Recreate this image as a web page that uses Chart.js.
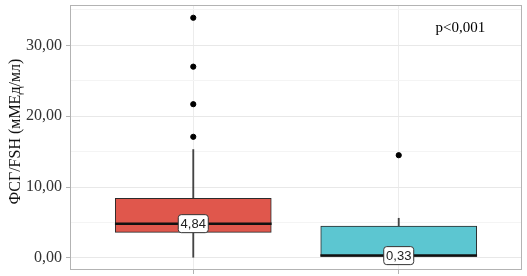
<!DOCTYPE html>
<html><head><meta charset="utf-8">
<script src="https://cdn.jsdelivr.net/npm/chart.js@4/dist/chart.umd.min.js"></script>
<style>html,body{margin:0;padding:0;background:#fff}#wrap{width:527px;height:276px}</style>
</head><body><div id="wrap"><canvas id="c" width="527" height="276"></canvas></div>
<script>
const categories = ['', ''];
const positions = [1, 2];
const q1 = [3.6, 0.2];
const median = [4.84, 0.33];
const q3 = [8.4, 4.5];
const whiskerLow = [0.1, 0.05];
const whiskerHigh = [15.3, 5.6];
const outliersA = [17.1, 21.7, 27.0, 33.9];
const outliersB = [14.5];
const medianLabels = ['4,84', '0,33'];
const yTicks = [0, 5, 10, 15, 20, 25, 30, 35];
const pText = 'p<0,001';
const yTitle = 'ФСГ/FSH (мМЕд/мл)';

const boxColors = ['#E0574C', '#5CC6D1'];

const overlay = {
  id: 'overlay',
  afterDatasetsDraw(chart) {
    const ctx = chart.ctx, xs = chart.scales.x, ys = chart.scales.y, a = chart.chartArea;
    ctx.save();
    ctx.strokeStyle = '#b3b3b3'; ctx.lineWidth = 1;
    ctx.strokeRect(Math.round(a.left) + 0.5, Math.round(a.top) + 0.5, Math.round(a.right - a.left) - 1, Math.round(a.bottom - a.top) - 1);
    ctx.font = '13px "Liberation Sans", Arial, sans-serif';
    ctx.textAlign = 'center'; ctx.textBaseline = 'middle';
    positions.forEach((p, i) => {
      const x = xs.getPixelForValue(p), y = ys.getPixelForValue(median[i]);
      const w = 30, h = 18, r = 3;
      ctx.beginPath();
      ctx.roundRect(x - w / 2, y - h / 2, w, h, r);
      ctx.fillStyle = '#fff'; ctx.fill();
      ctx.strokeStyle = '#333'; ctx.lineWidth = 1; ctx.stroke();
      ctx.fillStyle = '#222';
      ctx.fillText(medianLabels[i], x, y + 1);
    });
    ctx.font = '15px "Liberation Serif", "Times New Roman", serif';
    ctx.fillStyle = '#000';
    ctx.fillText(pText, xs.getPixelForValue(2.3), ys.getPixelForValue(32.4));
    ctx.restore();
  }
};

new Chart(document.getElementById('c'), {
  type: 'bar',
  data: {
    datasets: [
      {
        type: 'scatter',
        data: [...outliersA.map(v => ({x: positions[0], y: v})), ...outliersB.map(v => ({x: positions[1], y: v}))],
        backgroundColor: '#000', borderColor: '#000', pointRadius: 2.6, order: 1
      },
      {
        data: positions.map((p, i) => ({x: p, y: [median[i] - 0.13, median[i] + 0.13]})),
        backgroundColor: '#111', borderWidth: 0, barThickness: 156, grouped: false, order: 2
      },
      {
        data: positions.map((p, i) => ({x: p, y: [q1[i], q3[i]]})),
        backgroundColor: boxColors, borderColor: '#2b2b2b', borderWidth: 1, borderSkipped: false,
        barThickness: 156, grouped: false, order: 3
      },
      {
        data: positions.map((p, i) => ({x: p, y: [whiskerLow[i], whiskerHigh[i]]})),
        backgroundColor: '#444', borderWidth: 0, barThickness: 1.2, grouped: false, order: 4
      }
    ]
  },
  options: {
    responsive: false, animation: false, devicePixelRatio: 1,
    layout: {padding: {top: 3, right: 5, left: 0, bottom: 0}},
    plugins: {legend: {display: false}, tooltip: {enabled: false}},
    scales: {
      x: {
        type: 'linear', min: 0.4, max: 2.6, offset: false,
        afterBuildTicks: s => { s.ticks = positions.map(v => ({value: v})); },
        afterFit: s => { s.height = 6; s.paddingLeft = 0; s.paddingRight = 0; },
        ticks: {callback: () => '', padding: 0},
        grid: {offset: false, color: '#ececec', lineWidth: 1, tickLength: 4, tickColor: '#b3b3b3', drawTicks: true},
        border: {display: false}
      },
      y: {
        min: -1.7, max: 35.7,
        afterBuildTicks: s => { s.ticks = yTicks.map(v => ({value: v})); },
        afterFit: s => { s.width = 70; s.paddingTop = 0; s.paddingBottom = 0; },
        ticks: {
          callback: v => (v % 10 === 0 ? v.toFixed(2).replace('.', ',') : ''),
          font: {family: '"Liberation Serif", "Times New Roman", serif', size: 16},
          color: '#333', padding: 4
        },
        grid: {
          color: c => (c.tick && c.tick.value % 10 === 0 ? '#e8e8e8' : '#f4f4f4'),
          tickColor: c => (c.tick && c.tick.value % 10 === 0 ? '#b3b3b3' : 'rgba(0,0,0,0)'),
          tickLength: 4, lineWidth: 1
        },
        border: {display: false},
        title: {
          display: true, text: '\u2002 ' + yTitle,
          font: {family: '"Liberation Serif", "Times New Roman", serif', size: 16},
          color: '#111', padding: {top: 6, bottom: 2}
        }
      }
    }
  },
  plugins: [overlay]
});
</script></body></html>
